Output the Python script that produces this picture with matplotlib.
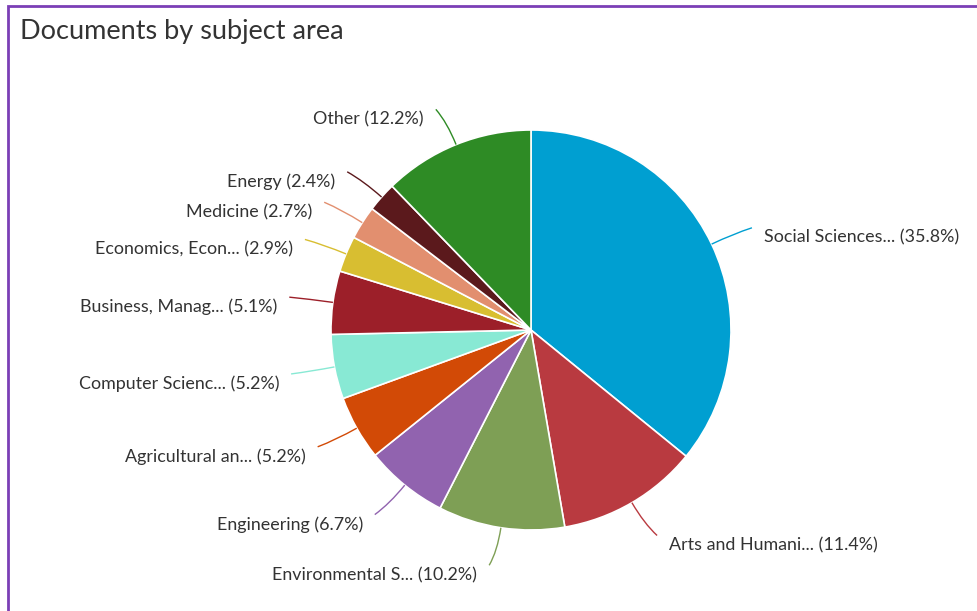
import matplotlib.pyplot as plt
from matplotlib.patches import Rectangle, PathPatch
from matplotlib.path import Path
import numpy as np

labels = ['Social Sciences...', 'Arts and Humani...', 'Environmental S...', 'Engineering',
          'Agricultural an...', 'Computer Scienc...', 'Business, Manag...', 'Economics, Econ...',
          'Medicine', 'Energy', 'Other']
shares = [35.8, 11.4, 10.2, 6.7, 5.2, 5.2, 5.1, 2.9, 2.7, 2.4, 12.2]
colors = ['#009FD1', '#B93A40', '#7E9F55', '#9163AF', '#D24A06', '#88E9D4',
          '#9C1F29', '#D8BE31', '#E28F6F', '#5B191C', '#2E8B25']

plt.rcParams['font.family'] = ['Lato', 'DejaVu Sans']
text_color = '#333333'

fig = plt.figure(figsize=(9.78, 6.11), dpi=100)

# purple frame (only top and left edges visible)
fig.patches.append(Rectangle((8 / 978, -0.1), 1.2, 1 - 6 / 611 + 0.1, transform=fig.transFigure,
                             fill=False, edgecolor='#7B3FB6', linewidth=2, zorder=0))
fig.text(20 / 978, 1 - 32 / 611, 'Documents by subject area', fontsize=19.5,
         color=text_color, va='center', ha='left')

ax = fig.add_axes([(531 - 200) / 978, (611 - 530) / 611, 400 / 978, 400 / 611])
wedges, _ = ax.pie(shares, colors=colors, startangle=90, counterclock=False,
                   wedgeprops=dict(edgecolor='white', linewidth=1.2), radius=1.0)
ax.set_xlim(-1, 1)
ax.set_ylim(-1, 1)
ax.set_aspect('equal')
ax.axis('off')

for w, lab, pct, col in zip(wedges, labels, shares, colors):
    ang = np.deg2rad((w.theta1 + w.theta2) / 2)
    dx, dy = np.cos(ang), np.sin(ang)
    side = 1 if dx >= 0 else -1
    p0 = (dx * 1.0, dy * 1.0)
    p1 = (dx * 1.12, dy * 1.12)
    p2 = (dx * 1.19 + side * 0.03, dy * 1.19)
    path = Path([p0, p1, p2], [Path.MOVETO, Path.CURVE3, Path.CURVE3])
    ax.add_patch(PathPatch(path, fill=False, edgecolor=col, linewidth=1, clip_on=False))
    ax.text(p2[0] + side * 0.06, p2[1] - 0.05, f'{lab} ({pct}%)', fontsize=12.9,
            color=text_color, ha='left' if side > 0 else 'right', va='center', clip_on=False)

fig.savefig('out.png', dpi=100, facecolor='white')
